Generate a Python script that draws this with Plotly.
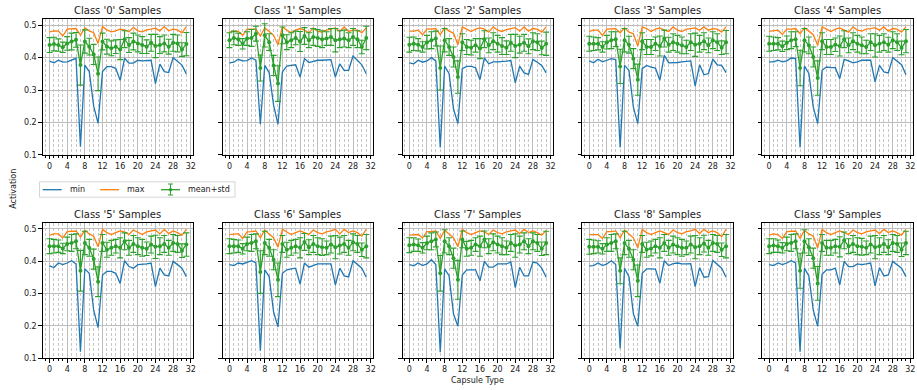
import plotly.graph_objects as go

W, H = 917, 390
capsules = list(range(32))
class_names = ["0", "1", "2", "3", "4", "5", "6", "7", "8", "9"]
x_ticks = [0, 4, 8, 12, 16, 20, 24, 28, 32]
y_ticks = [0.1, 0.2, 0.3, 0.4, 0.5]

min_0 = [0.389,0.384,0.392,0.386,0.387,0.392,0.398,0.125,0.377,0.357,0.250,0.197,0.357,0.372,0.372,0.367,0.330,0.398,0.383,0.383,0.392,0.390,0.390,0.392,0.320,0.380,0.357,0.354,0.400,0.387,0.377,0.350]
max_0 = [0.480,0.483,0.482,0.467,0.488,0.489,0.490,0.470,0.492,0.483,0.477,0.444,0.496,0.486,0.480,0.483,0.488,0.486,0.480,0.494,0.483,0.480,0.486,0.488,0.491,0.483,0.496,0.483,0.488,0.486,0.477,0.496]
mean_0 = [0.439,0.442,0.439,0.432,0.444,0.450,0.455,0.377,0.450,0.434,0.410,0.350,0.450,0.434,0.429,0.434,0.425,0.457,0.439,0.450,0.444,0.439,0.434,0.446,0.436,0.439,0.444,0.434,0.446,0.444,0.425,0.442]

min_1 = [0.384,0.386,0.395,0.390,0.391,0.399,0.392,0.194,0.376,0.354,0.253,0.194,0.356,0.374,0.376,0.378,0.340,0.397,0.385,0.389,0.392,0.392,0.394,0.394,0.340,0.381,0.361,0.361,0.405,0.392,0.378,0.350]
max_1 = [0.479,0.482,0.481,0.469,0.488,0.488,0.488,0.467,0.492,0.481,0.469,0.440,0.495,0.485,0.477,0.485,0.490,0.485,0.477,0.492,0.481,0.479,0.485,0.488,0.492,0.481,0.495,0.481,0.485,0.485,0.477,0.492]
mean_1 = [0.454,0.461,0.457,0.443,0.459,0.461,0.474,0.368,0.469,0.448,0.376,0.320,0.469,0.448,0.454,0.461,0.450,0.467,0.454,0.464,0.461,0.457,0.459,0.464,0.454,0.457,0.459,0.454,0.464,0.457,0.433,0.461]

min_2 = [0.384,0.381,0.392,0.386,0.390,0.400,0.390,0.122,0.374,0.351,0.242,0.196,0.366,0.373,0.373,0.369,0.332,0.399,0.381,0.387,0.387,0.387,0.389,0.391,0.322,0.374,0.353,0.348,0.394,0.386,0.376,0.353]
max_2 = [0.482,0.482,0.485,0.471,0.488,0.488,0.490,0.471,0.492,0.482,0.476,0.440,0.495,0.488,0.481,0.488,0.492,0.488,0.479,0.495,0.485,0.481,0.487,0.490,0.493,0.482,0.495,0.482,0.490,0.488,0.479,0.495]
mean_2 = [0.440,0.443,0.440,0.433,0.448,0.454,0.459,0.368,0.454,0.433,0.402,0.340,0.448,0.433,0.431,0.438,0.428,0.457,0.438,0.451,0.443,0.436,0.431,0.446,0.436,0.440,0.446,0.435,0.451,0.448,0.430,0.443]

min_3 = [0.390,0.384,0.395,0.387,0.392,0.397,0.394,0.122,0.376,0.361,0.247,0.196,0.366,0.376,0.371,0.368,0.330,0.407,0.384,0.384,0.385,0.387,0.389,0.390,0.312,0.378,0.347,0.351,0.395,0.378,0.376,0.354]
max_3 = [0.481,0.485,0.485,0.469,0.488,0.488,0.490,0.477,0.492,0.479,0.474,0.436,0.495,0.490,0.481,0.488,0.492,0.485,0.481,0.495,0.485,0.481,0.488,0.490,0.492,0.485,0.495,0.485,0.490,0.488,0.479,0.495]
mean_3 = [0.443,0.443,0.443,0.433,0.448,0.454,0.457,0.373,0.454,0.440,0.397,0.332,0.451,0.433,0.433,0.443,0.436,0.459,0.440,0.448,0.443,0.438,0.433,0.448,0.440,0.443,0.451,0.438,0.454,0.448,0.431,0.448]

min_4 = [0.387,0.387,0.392,0.387,0.390,0.399,0.397,0.122,0.374,0.351,0.247,0.196,0.361,0.371,0.369,0.369,0.335,0.395,0.390,0.384,0.387,0.392,0.392,0.392,0.325,0.376,0.356,0.353,0.400,0.389,0.378,0.347]
max_4 = [0.481,0.482,0.485,0.472,0.488,0.488,0.490,0.474,0.492,0.482,0.471,0.438,0.495,0.488,0.481,0.488,0.492,0.485,0.479,0.495,0.485,0.482,0.488,0.490,0.493,0.485,0.495,0.482,0.490,0.488,0.479,0.495]
mean_4 = [0.443,0.443,0.443,0.435,0.446,0.454,0.457,0.368,0.454,0.438,0.402,0.337,0.451,0.433,0.433,0.440,0.436,0.457,0.438,0.451,0.443,0.438,0.433,0.448,0.438,0.443,0.448,0.440,0.454,0.448,0.430,0.451]

min_5 = [0.385,0.380,0.394,0.389,0.394,0.401,0.391,0.120,0.376,0.362,0.248,0.194,0.357,0.368,0.368,0.362,0.331,0.401,0.383,0.378,0.389,0.389,0.391,0.394,0.321,0.378,0.357,0.354,0.399,0.389,0.378,0.352]
max_5 = [0.480,0.484,0.484,0.472,0.491,0.491,0.493,0.474,0.495,0.484,0.477,0.444,0.498,0.488,0.482,0.488,0.493,0.490,0.482,0.496,0.488,0.482,0.490,0.493,0.496,0.484,0.498,0.485,0.493,0.488,0.480,0.498]
mean_5 = [0.446,0.446,0.446,0.439,0.453,0.456,0.461,0.370,0.456,0.441,0.406,0.336,0.456,0.435,0.441,0.446,0.441,0.461,0.441,0.453,0.446,0.441,0.438,0.451,0.444,0.446,0.453,0.441,0.456,0.453,0.432,0.451]

min_6 = [0.389,0.386,0.394,0.391,0.396,0.401,0.394,0.123,0.373,0.352,0.243,0.196,0.362,0.373,0.376,0.378,0.329,0.394,0.381,0.386,0.391,0.391,0.391,0.391,0.326,0.378,0.354,0.351,0.401,0.389,0.378,0.350]
max_6 = [0.482,0.484,0.485,0.470,0.490,0.491,0.493,0.472,0.496,0.484,0.472,0.443,0.498,0.490,0.482,0.488,0.493,0.488,0.482,0.496,0.488,0.484,0.490,0.493,0.498,0.484,0.498,0.488,0.493,0.488,0.477,0.498]
mean_6 = [0.446,0.446,0.446,0.438,0.453,0.456,0.461,0.366,0.456,0.441,0.404,0.342,0.453,0.435,0.441,0.446,0.441,0.459,0.443,0.453,0.446,0.443,0.441,0.451,0.443,0.448,0.453,0.441,0.458,0.453,0.435,0.446]

min_7 = [0.389,0.385,0.394,0.386,0.391,0.404,0.389,0.118,0.376,0.355,0.237,0.198,0.357,0.373,0.373,0.373,0.339,0.399,0.381,0.381,0.391,0.391,0.391,0.397,0.318,0.381,0.354,0.354,0.397,0.394,0.378,0.350]
max_7 = [0.480,0.482,0.482,0.472,0.491,0.491,0.493,0.470,0.495,0.484,0.472,0.444,0.498,0.488,0.482,0.488,0.493,0.490,0.482,0.496,0.488,0.484,0.490,0.493,0.496,0.485,0.498,0.488,0.493,0.488,0.480,0.495]
mean_7 = [0.449,0.451,0.449,0.441,0.456,0.461,0.467,0.362,0.461,0.446,0.409,0.342,0.467,0.438,0.441,0.451,0.446,0.467,0.446,0.458,0.451,0.446,0.441,0.456,0.448,0.451,0.461,0.446,0.461,0.456,0.438,0.456]

min_8 = [0.385,0.386,0.394,0.386,0.391,0.401,0.389,0.130,0.378,0.352,0.237,0.198,0.362,0.376,0.376,0.375,0.331,0.401,0.386,0.392,0.394,0.391,0.391,0.392,0.321,0.380,0.350,0.352,0.402,0.391,0.378,0.350]
max_8 = [0.482,0.482,0.482,0.470,0.491,0.491,0.493,0.472,0.496,0.484,0.472,0.441,0.498,0.488,0.482,0.488,0.493,0.488,0.482,0.496,0.488,0.484,0.491,0.493,0.498,0.485,0.498,0.488,0.493,0.488,0.475,0.498]
mean_8 = [0.444,0.444,0.444,0.438,0.451,0.456,0.461,0.370,0.456,0.438,0.404,0.339,0.453,0.435,0.439,0.446,0.441,0.456,0.441,0.451,0.446,0.441,0.441,0.451,0.443,0.446,0.454,0.441,0.456,0.453,0.435,0.446]

min_9 = [0.389,0.386,0.394,0.389,0.394,0.401,0.394,0.120,0.378,0.354,0.248,0.198,0.359,0.373,0.373,0.378,0.326,0.399,0.383,0.383,0.391,0.389,0.391,0.394,0.323,0.380,0.354,0.357,0.399,0.389,0.378,0.352]
max_9 = [0.480,0.484,0.482,0.470,0.491,0.491,0.493,0.470,0.495,0.484,0.477,0.441,0.498,0.488,0.482,0.488,0.493,0.488,0.482,0.496,0.488,0.484,0.490,0.493,0.496,0.485,0.498,0.488,0.493,0.488,0.480,0.498]
mean_9 = [0.446,0.448,0.446,0.441,0.453,0.456,0.461,0.370,0.461,0.443,0.409,0.331,0.456,0.441,0.441,0.446,0.444,0.464,0.446,0.453,0.446,0.444,0.441,0.451,0.443,0.446,0.453,0.443,0.456,0.453,0.435,0.456]

# typical std per capsule (read from error bar lengths)
std_typical = [0.023,0.021,0.019,0.016,0.021,0.026,0.023,0.062,0.036,0.026,0.031,0.052,0.026,0.023,0.023,0.021,0.031,0.026,0.023,0.026,0.026,0.026,0.021,0.026,0.036,0.026,0.026,0.023,0.026,0.026,0.021,0.036]
# class-specific std at the two dips (capsules 7 and 11)
std_cap7 = [0.062,0.040,0.068,0.053,0.055,0.063,0.066,0.055,0.040,0.054]
std_cap11 = [0.052,0.055,0.050,0.048,0.053,0.046,0.052,0.060,0.049,0.052]

mins = [min_0, min_1, min_2, min_3, min_4, min_5, min_6, min_7, min_8, min_9]
maxs = [max_0, max_1, max_2, max_3, max_4, max_5, max_6, max_7, max_8, max_9]
means = [mean_0, mean_1, mean_2, mean_3, mean_4, mean_5, mean_6, mean_7, mean_8, mean_9]

BLUE, ORANGE, GREEN = "#1f77b4", "#ff7f0e", "#2ca02c"
FONT = "DejaVu Sans"
TXT = "#1a1a1a"

def px(x):
    return x / W

def py(y):
    return 1 - y / H

col_left = [42.7, 222.6, 402.5, 582.4, 762.3]
col_w = 150.5
row_top = [19.3, 222.7]
row_h = 135.4

fig = go.Figure()
layout = {}
annotations = []
for k in range(10):
    r, c = divmod(k, 5)
    sfx = "" if k == 0 else str(k + 1)
    xa, ya = "x" + sfx, "y" + sfx
    std = list(std_typical)
    std[7] = std_cap7[k]
    std[11] = std_cap11[k]
    fig.add_trace(go.Scatter(x=capsules, y=mins[k], mode="lines", line=dict(color=BLUE, width=1.3),
                             xaxis=xa, yaxis=ya, showlegend=False, name="min"))
    fig.add_trace(go.Scatter(x=capsules, y=maxs[k], mode="lines", line=dict(color=ORANGE, width=1.3),
                             xaxis=xa, yaxis=ya, showlegend=False, name="max"))
    fig.add_trace(go.Scatter(x=capsules, y=means[k], mode="lines+markers",
                             line=dict(color=GREEN, width=1.3), marker=dict(color=GREEN, size=4),
                             error_y=dict(type="data", array=std, color=GREEN, thickness=1.1, width=3),
                             xaxis=xa, yaxis=ya, showlegend=False, name="mean+std"))
    x0 = col_left[c]
    y0 = row_top[r]
    layout["xaxis" + sfx] = dict(
        domain=[px(x0), px(x0 + col_w)], anchor=ya, range=[-1.55, 32.55],
        tickmode="array", tickvals=x_ticks, ticks="outside", ticklen=3.5, tickwidth=0.8,
        tickcolor="black", showline=True, linecolor="black", linewidth=0.8, mirror=True,
        showgrid=True, gridcolor="#bdbdbd", gridwidth=1.1, zeroline=False,
        tickfont=dict(family=FONT, size=8, color=TXT),
        minor=dict(dtick=1, tick0=0, ticks="outside", ticklen=2, tickwidth=0.6, tickcolor="black",
                   showgrid=True, gridcolor="#c6c6c6", gridwidth=0.7, griddash="3px,2px"),
    )
    layout["yaxis" + sfx] = dict(
        domain=[py(y0 + row_h), py(y0)], anchor=xa, range=[0.1, 0.5186],
        tickmode="array", tickvals=y_ticks, ticktext=["0.1", "0.2", "0.3", "0.4", "0.5"],
        ticks="outside", ticklen=3.5, tickwidth=0.8, tickcolor="black",
        showticklabels=(c == 0), showline=True, linecolor="black", linewidth=0.8, mirror=True,
        showgrid=True, gridcolor="#bdbdbd", gridwidth=1.1, zeroline=False,
        tickfont=dict(family=FONT, size=8, color=TXT),
    )
    annotations.append(dict(text=f"Class '{class_names[k]}' Samples", xref="paper", yref="paper",
                            x=px(x0 + col_w / 2), y=py(y0 - 8.5), xanchor="center", yanchor="middle",
                            showarrow=False, font=dict(family=FONT, size=10, color=TXT)))

annotations.append(dict(text="Activation", xref="paper", yref="paper", x=px(14), y=py(188.8),
                        textangle=-90, xanchor="center", yanchor="middle", showarrow=False,
                        font=dict(family=FONT, size=8, color=TXT)))
annotations.append(dict(text="Capsule Type", xref="paper", yref="paper", x=px(col_left[2] + col_w / 2),
                        y=py(380.5), xanchor="center", yanchor="middle", showarrow=False,
                        font=dict(family=FONT, size=8, color=TXT)))

# legend (drawn manually to match the original compact style)
leg_y = 189.7
shapes = [
    dict(type="rect", xref="paper", yref="paper", x0=px(39.5), x1=px(235), y0=py(197.2), y1=py(181.8),
         line=dict(color="#cccccc", width=0.8), fillcolor="white", layer="above"),
    dict(type="line", xref="paper", yref="paper", x0=px(42.7), x1=px(61.7), y0=py(leg_y), y1=py(leg_y),
         line=dict(color=BLUE, width=1.3), layer="above"),
    dict(type="line", xref="paper", yref="paper", x0=px(100), x1=px(119), y0=py(leg_y), y1=py(leg_y),
         line=dict(color=ORANGE, width=1.3), layer="above"),
    dict(type="line", xref="paper", yref="paper", x0=px(161), x1=px(180), y0=py(leg_y), y1=py(leg_y),
         line=dict(color=GREEN, width=1.3), layer="above"),
    dict(type="line", xref="paper", yref="paper", x0=px(170.5), x1=px(170.5), y0=py(184), y1=py(195),
         line=dict(color=GREEN, width=1), layer="above"),
    dict(type="line", xref="paper", yref="paper", x0=px(168), x1=px(173), y0=py(184), y1=py(184),
         line=dict(color=GREEN, width=1), layer="above"),
    dict(type="line", xref="paper", yref="paper", x0=px(168), x1=px(173), y0=py(195), y1=py(195),
         line=dict(color=GREEN, width=1), layer="above"),
    dict(type="circle", xref="paper", yref="paper", x0=px(169), x1=px(172), y0=py(leg_y + 1.5), y1=py(leg_y - 1.5),
         line=dict(color=GREEN, width=0.5), fillcolor=GREEN, layer="above"),
]
for label, lx in [("min", 67.7), ("max", 125.3), ("mean+std", 185.7)]:
    annotations.append(dict(text=label, xref="paper", yref="paper", x=px(lx), y=py(leg_y),
                            xanchor="left", yanchor="middle", showarrow=False,
                            font=dict(family=FONT, size=8, color=TXT)))

fig.update_layout(
    width=W, height=H, margin=dict(l=0, r=0, t=0, b=0, autoexpand=False),
    paper_bgcolor="white", plot_bgcolor="white", showlegend=False,
    annotations=annotations, shapes=shapes, **layout,
)
fig.write_html("out.html", config={"displayModeBar": False},
               post_script="document.body.style.margin='0';document.body.style.overflow='hidden';")
